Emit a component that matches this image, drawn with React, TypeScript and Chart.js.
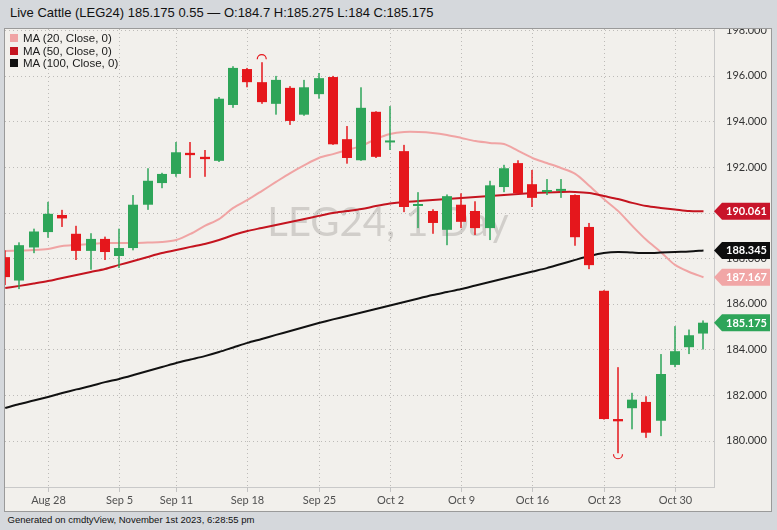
import React, { useEffect, useRef } from "react";
import { Chart, registerables } from "chart.js";

Chart.register(...registerables);

// ---- data ----
const dates = [
  "Aug 23", "Aug 24", "Aug 25", "Aug 28", "Aug 29", "Aug 30", "Aug 31", "Sep 1",
  "Sep 5", "Sep 6", "Sep 7", "Sep 8", "Sep 11", "Sep 12", "Sep 13", "Sep 14", "Sep 15",
  "Sep 18", "Sep 19", "Sep 20", "Sep 21", "Sep 22", "Sep 25", "Sep 26", "Sep 27", "Sep 28", "Sep 29",
  "Oct 2", "Oct 3", "Oct 4", "Oct 5", "Oct 6", "Oct 9", "Oct 10", "Oct 11", "Oct 12", "Oct 13",
  "Oct 16", "Oct 17", "Oct 18", "Oct 19", "Oct 20", "Oct 23", "Oct 24", "Oct 25", "Oct 26", "Oct 27",
  "Oct 30", "Oct 31", "Nov 1",
];

const opens = [
  188.05, 187.025, 188.475, 189.15, 189.9, 189.075, 188.325, 188.85,
  188.1, 188.45, 190.35, 191.3, 191.7, 192.625, 192.45, 192.275, 194.725,
  196.3, 195.725, 194.775, 195.475, 194.3, 195.2, 195.95, 193.225, 192.3, 194.425,
  193.1, 192.7, 190.3, 190.075, 189.25, 190.35, 190.075, 189.325, 191.125, 192.175,
  191.25, 190.925, 190.975, 190.775, 189.375, 186.575, 180.95, 181.425, 181.7, 180.875,
  183.325, 184.1, 184.7,
];
const highs = [
  188.35, 188.7, 189.3, 190.475, 190.125, 189.425, 189.1, 188.95,
  189.3, 190.775, 191.95, 191.75, 193.1, 193.1, 192.75, 195.075, 196.425,
  196.35, 196.6, 196.0, 195.55, 195.825, 196.125, 196.0, 193.8, 195.5, 194.45,
  194.675, 192.975, 190.9, 190.15, 190.8, 190.85, 190.5, 191.4, 192.1, 192.3,
  191.875, 191.475, 191.475, 190.8, 189.55, 186.6, 183.225, 182.1, 181.95, 183.8,
  185.025, 184.875, 185.275,
];
const lows = [
  186.825, 186.65, 188.225, 188.9, 189.375, 187.925, 187.5, 187.925,
  187.575, 188.35, 190.125, 191.075, 191.575, 191.525, 191.575, 192.225, 194.6,
  195.5, 194.775, 194.3, 193.85, 194.25, 195.0, 192.975, 192.15, 192.275, 192.4,
  192.75, 190.025, 189.325, 189.075, 188.575, 189.325, 189.025, 188.8, 190.9, 190.825,
  190.25, 190.775, 190.65, 188.55, 187.525, 180.925, 179.45, 180.5, 180.125, 180.2,
  183.225, 183.8, 184.0,
];
const closes = [
  187.175, 188.575, 189.175, 189.95, 189.75, 188.325, 188.85, 188.275,
  188.45, 190.35, 191.4, 191.7, 192.65, 192.525, 192.35, 195.0, 196.35,
  195.725, 194.85, 195.825, 194.025, 195.5, 195.9, 193.0, 192.4, 194.6, 192.45,
  193.15, 190.25, 190.375, 189.55, 190.725, 189.6, 189.325, 191.2, 191.95, 190.85,
  190.65, 190.975, 191.025, 188.925, 187.7, 180.95, 180.85, 181.8, 180.35, 182.925,
  183.925, 184.625, 185.175,
];

const ma20 = [
  188.32, 188.34, 188.36, 188.41, 188.54, 188.58, 188.63, 188.67,
  188.67, 188.67, 188.69, 188.71, 188.8, 189.07, 189.42, 189.72, 190.21,
  190.56, 190.95, 191.35, 191.74, 192.09, 192.4, 192.57, 192.75, 192.93, 193.23,
  193.45, 193.54, 193.54, 193.5, 193.41, 193.28, 193.14, 193.06, 193.01, 192.71,
  192.4, 192.18, 191.96, 191.7, 191.17, 190.6, 190.08, 189.42, 188.8, 188.28,
  187.71, 187.4, 187.167,
];
const ma50 = [
  186.7, 186.79, 186.89, 187.0, 187.14, 187.27, 187.4, 187.53,
  187.71, 187.88, 188.06, 188.23, 188.36, 188.5, 188.63, 188.8, 189.02,
  189.2, 189.33, 189.46, 189.59, 189.72, 189.86, 189.99, 190.07, 190.16, 190.29,
  190.4, 190.47, 190.51, 190.56, 190.6, 190.64, 190.69, 190.73, 190.78, 190.82,
  190.86, 190.89, 190.91, 190.91, 190.86, 190.73, 190.6, 190.43, 190.29, 190.21,
  190.14, 190.07, 190.061,
];
const ma100 = [
  181.43, 181.61, 181.76, 181.92, 182.09, 182.25, 182.4, 182.57,
  182.71, 182.88, 183.06, 183.23, 183.41, 183.56, 183.71, 183.89, 184.09,
  184.29, 184.46, 184.64, 184.81, 184.99, 185.16, 185.32, 185.47, 185.62, 185.78,
  185.93, 186.08, 186.24, 186.39, 186.52, 186.65, 186.81, 186.96, 187.11, 187.27,
  187.42, 187.57, 187.75, 187.93, 188.1, 188.23, 188.28, 188.25, 188.23, 188.25,
  188.28, 188.3, 188.345,
];

const xTickLabels = ["Aug 28", "Sep 5", "Sep 11", "Sep 18", "Sep 25", "Oct 2", "Oct 9", "Oct 16", "Oct 23", "Oct 30"];
const yTickValues = [180, 182, 184, 186, 188, 190, 192, 194, 196, 198];

const titleText = "Live Cattle (LEG24) 185.175 0.55 \u2014 O:184.7 H:185.275 L:184 C:185.175";
const watermarkText = "LEG24, 1 Day";
const footerText = "Generated on cmdtyView, November 1st 2023, 6:28:55 pm";

const legendItems = [
  { label: "MA (20, Close, 0)", color: "#f0a4a4" },
  { label: "MA (50, Close, 0)", color: "#c4141f" },
  { label: "MA (100, Close, 0)", color: "#111111" },
];

const GREEN = "#2ea559";
const RED = "#e5171c";

const candlePlugin = {
  id: "candles",
  beforeDatasetsDraw(chart: any) {
    const { ctx, chartArea: a, scales } = chart;
    const x = scales.x;
    const y = scales.y;
    ctx.save();
    // watermark
    ctx.font = "40px Lato";
    ctx.fillStyle = "rgba(90,85,80,0.22)";
    ctx.textAlign = "center";
    ctx.textBaseline = "middle";
    ctx.fillText(watermarkText, a.left + 383, a.top + 194);
    // grid
    ctx.strokeStyle = "rgba(0,0,0,0.22)";
    ctx.lineWidth = 1;
    ctx.setLineDash([1, 3]);
    yTickValues.forEach((v) => {
      const py = Math.round(y.getPixelForValue(v)) + 0.5;
      if (py < a.top || py > a.bottom) return;
      ctx.beginPath();
      ctx.moveTo(a.left, py);
      ctx.lineTo(a.right, py);
      ctx.stroke();
    });
    xTickLabels.forEach((lab) => {
      const i = dates.indexOf(lab);
      const px = Math.round(x.getPixelForValue(i)) + 0.5;
      ctx.beginPath();
      ctx.moveTo(px, a.top);
      ctx.lineTo(px, a.bottom);
      ctx.stroke();
    });
    ctx.restore();
  },
  afterDatasetsDraw(chart: any) {
    const { ctx, chartArea: a, scales } = chart;
    const x = scales.x;
    const y = scales.y;
    ctx.save();
    ctx.beginPath();
    ctx.rect(a.left, a.top, a.right - a.left, a.bottom - a.top);
    ctx.clip();
    let hiIdx = 0;
    let loIdx = 0;
    for (let i = 0; i < dates.length; i++) {
      if (highs[i] > highs[hiIdx]) hiIdx = i;
      if (lows[i] < lows[loIdx]) loIdx = i;
      const px = Math.round(x.getPixelForValue(i));
      const po = y.getPixelForValue(opens[i]);
      const pc = y.getPixelForValue(closes[i]);
      const ph = y.getPixelForValue(highs[i]);
      const pl = y.getPixelForValue(lows[i]);
      const up = closes[i] >= opens[i];
      ctx.fillStyle = up ? GREEN : RED;
      ctx.fillRect(px - 0.75, ph, 1.5, pl - ph);
      let top = Math.min(po, pc);
      let h = Math.abs(po - pc);
      if (h < 2) {
        top = (po + pc) / 2 - 1;
        h = 2;
      }
      ctx.fillRect(px - 5, top, 10, h);
    }
    // high / low markers
    ctx.strokeStyle = RED;
    ctx.lineWidth = 1.2;
    const hx = x.getPixelForValue(hiIdx);
    const hy = y.getPixelForValue(highs[hiIdx]);
    ctx.beginPath();
    ctx.arc(hx, hy - 3, 4.5, Math.PI, 2 * Math.PI);
    ctx.stroke();
    const lx = x.getPixelForValue(loIdx);
    const ly = y.getPixelForValue(lows[loIdx]);
    ctx.beginPath();
    ctx.arc(lx, ly + 1, 4.5, 0, Math.PI);
    ctx.stroke();
    ctx.restore();
  },
  afterDraw(chart: any) {
    const { ctx, chartArea: a, scales } = chart;
    const x = scales.x;
    const y = scales.y;
    ctx.save();
    // x tick marks + labels
    ctx.strokeStyle = "#c4c4c4";
    ctx.lineWidth = 1;
    ctx.font = "11px Lato";
    ctx.fillStyle = "#505050";
    ctx.textAlign = "center";
    ctx.textBaseline = "middle";
    xTickLabels.forEach((lab) => {
      const i = dates.indexOf(lab);
      const px = Math.round(x.getPixelForValue(i)) + 0.5;
      ctx.beginPath();
      ctx.moveTo(px, a.bottom);
      ctx.lineTo(px, a.bottom + 5);
      ctx.stroke();
      ctx.fillText(lab, px, a.bottom + 13);
    });
    // y labels
    ctx.textAlign = "left";
    ctx.fillStyle = "#333333";
    yTickValues.forEach((v) => {
      const py = y.getPixelForValue(v);
      ctx.fillText(v.toFixed(3), a.right + 12, py);
    });
    // price tags
    const tags = [
      { v: ma50[ma50.length - 1], bg: "#c8142a" },
      { v: ma100[ma100.length - 1], bg: "#0d0d0d" },
      { v: ma20[ma20.length - 1], bg: "#f1a6a6" },
      { v: closes[closes.length - 1], bg: GREEN },
    ];
    ctx.font = "bold 11px Lato";
    tags.forEach((t) => {
      const py = y.getPixelForValue(t.v);
      const x0 = a.right;
      const x1 = chart.width - 1;
      ctx.fillStyle = t.bg;
      ctx.beginPath();
      ctx.moveTo(x0, py);
      ctx.lineTo(x0 + 8, py - 8.5);
      ctx.lineTo(x1, py - 8.5);
      ctx.lineTo(x1, py + 8.5);
      ctx.lineTo(x0 + 8, py + 8.5);
      ctx.closePath();
      ctx.fill();
      ctx.fillStyle = "#ffffff";
      ctx.fillText(t.v.toFixed(3), x0 + 12, py + 0.5);
    });
    ctx.restore();
  },
};

function ChartCanvas() {
  const ref = useRef<HTMLCanvasElement | null>(null);
  useEffect(() => {
    if (!ref.current) return;
    const toPts = (arr: number[]) => arr.map((v, i) => ({ x: i, y: v }));
    const chart = new Chart(ref.current, {
      type: "line",
      data: {
        datasets: [
          { label: "MA (100, Close, 0)", data: toPts(ma100), borderColor: "#111111", borderWidth: 2, pointRadius: 0, tension: 0.3 },
          { label: "MA (50, Close, 0)", data: toPts(ma50), borderColor: "#c4141f", borderWidth: 2, pointRadius: 0, tension: 0.3 },
          { label: "MA (20, Close, 0)", data: toPts(ma20), borderColor: "#f0a4a4", borderWidth: 2, pointRadius: 0, tension: 0.3 },
        ],
      },
      options: {
        animation: false,
        responsive: false,
        maintainAspectRatio: false,
        layout: { padding: 0 },
        events: [],
        plugins: { legend: { display: false }, tooltip: { enabled: false } },
        scales: {
          x: {
            type: "linear",
            min: -0.0175,
            max: 49.737,
            grid: { display: false },
            ticks: { display: false },
            border: { display: true, color: "#c9c9c9", width: 1 },
            afterFit: (s: any) => {
              s.height = 24;
            },
          },
          y: {
            type: "linear",
            position: "right",
            min: 177.969,
            max: 198.057,
            grid: { display: false },
            ticks: { display: false },
            border: { display: true, color: "#c9c9c9", width: 1 },
            afterFit: (s: any) => {
              s.width = 57;
            },
          },
        },
      },
      plugins: [candlePlugin],
    } as any);
    return () => chart.destroy();
  }, []);
  return <canvas ref={ref} width={766} height={482} style={{ display: "block" }} />;
}

export default function App() {
  useEffect(() => {
    document.body.style.margin = "0";
  }, []);
  return (
    <div
      style={{
        position: "fixed",
        left: 0,
        top: 0,
        width: 777,
        height: 530,
        background: "#d5d8dc",
        overflow: "hidden",
        fontFamily: "'Liberation Sans', Arial, sans-serif",
      }}
    >
      <div
        style={{
          position: "absolute",
          left: 10,
          top: 5,
          fontSize: 13,
          lineHeight: "15px",
          color: "#111",
          whiteSpace: "nowrap",
        }}
      >
        {titleText}
      </div>
      <div
        style={{
          position: "absolute",
          left: 4,
          top: 28,
          width: 768,
          height: 484,
          boxSizing: "border-box",
          border: "1px solid #9a9a9a",
          background: "#f2f0ec",
        }}
      >
        <ChartCanvas />
      </div>
      {legendItems.map((it, k) => (
        <div
          key={it.label}
          style={{
            position: "absolute",
            left: 10,
            top: 31 + k * 12.5,
            height: 14,
            lineHeight: "14px",
            fontSize: 11.5,
            color: "#1a1a1a",
            whiteSpace: "nowrap",
            display: "flex",
            alignItems: "center",
          }}
        >
          <span style={{ display: "inline-block", width: 8, height: 8, background: it.color, marginRight: 5 }} />
          <span>{it.label}</span>
        </div>
      ))}
      <div
        style={{
          position: "absolute",
          left: 7.5,
          top: 514,
          fontSize: 9.5,
          lineHeight: "12px",
          color: "#111",
          whiteSpace: "nowrap",
        }}
      >
        {footerText}
      </div>
    </div>
  );
}
